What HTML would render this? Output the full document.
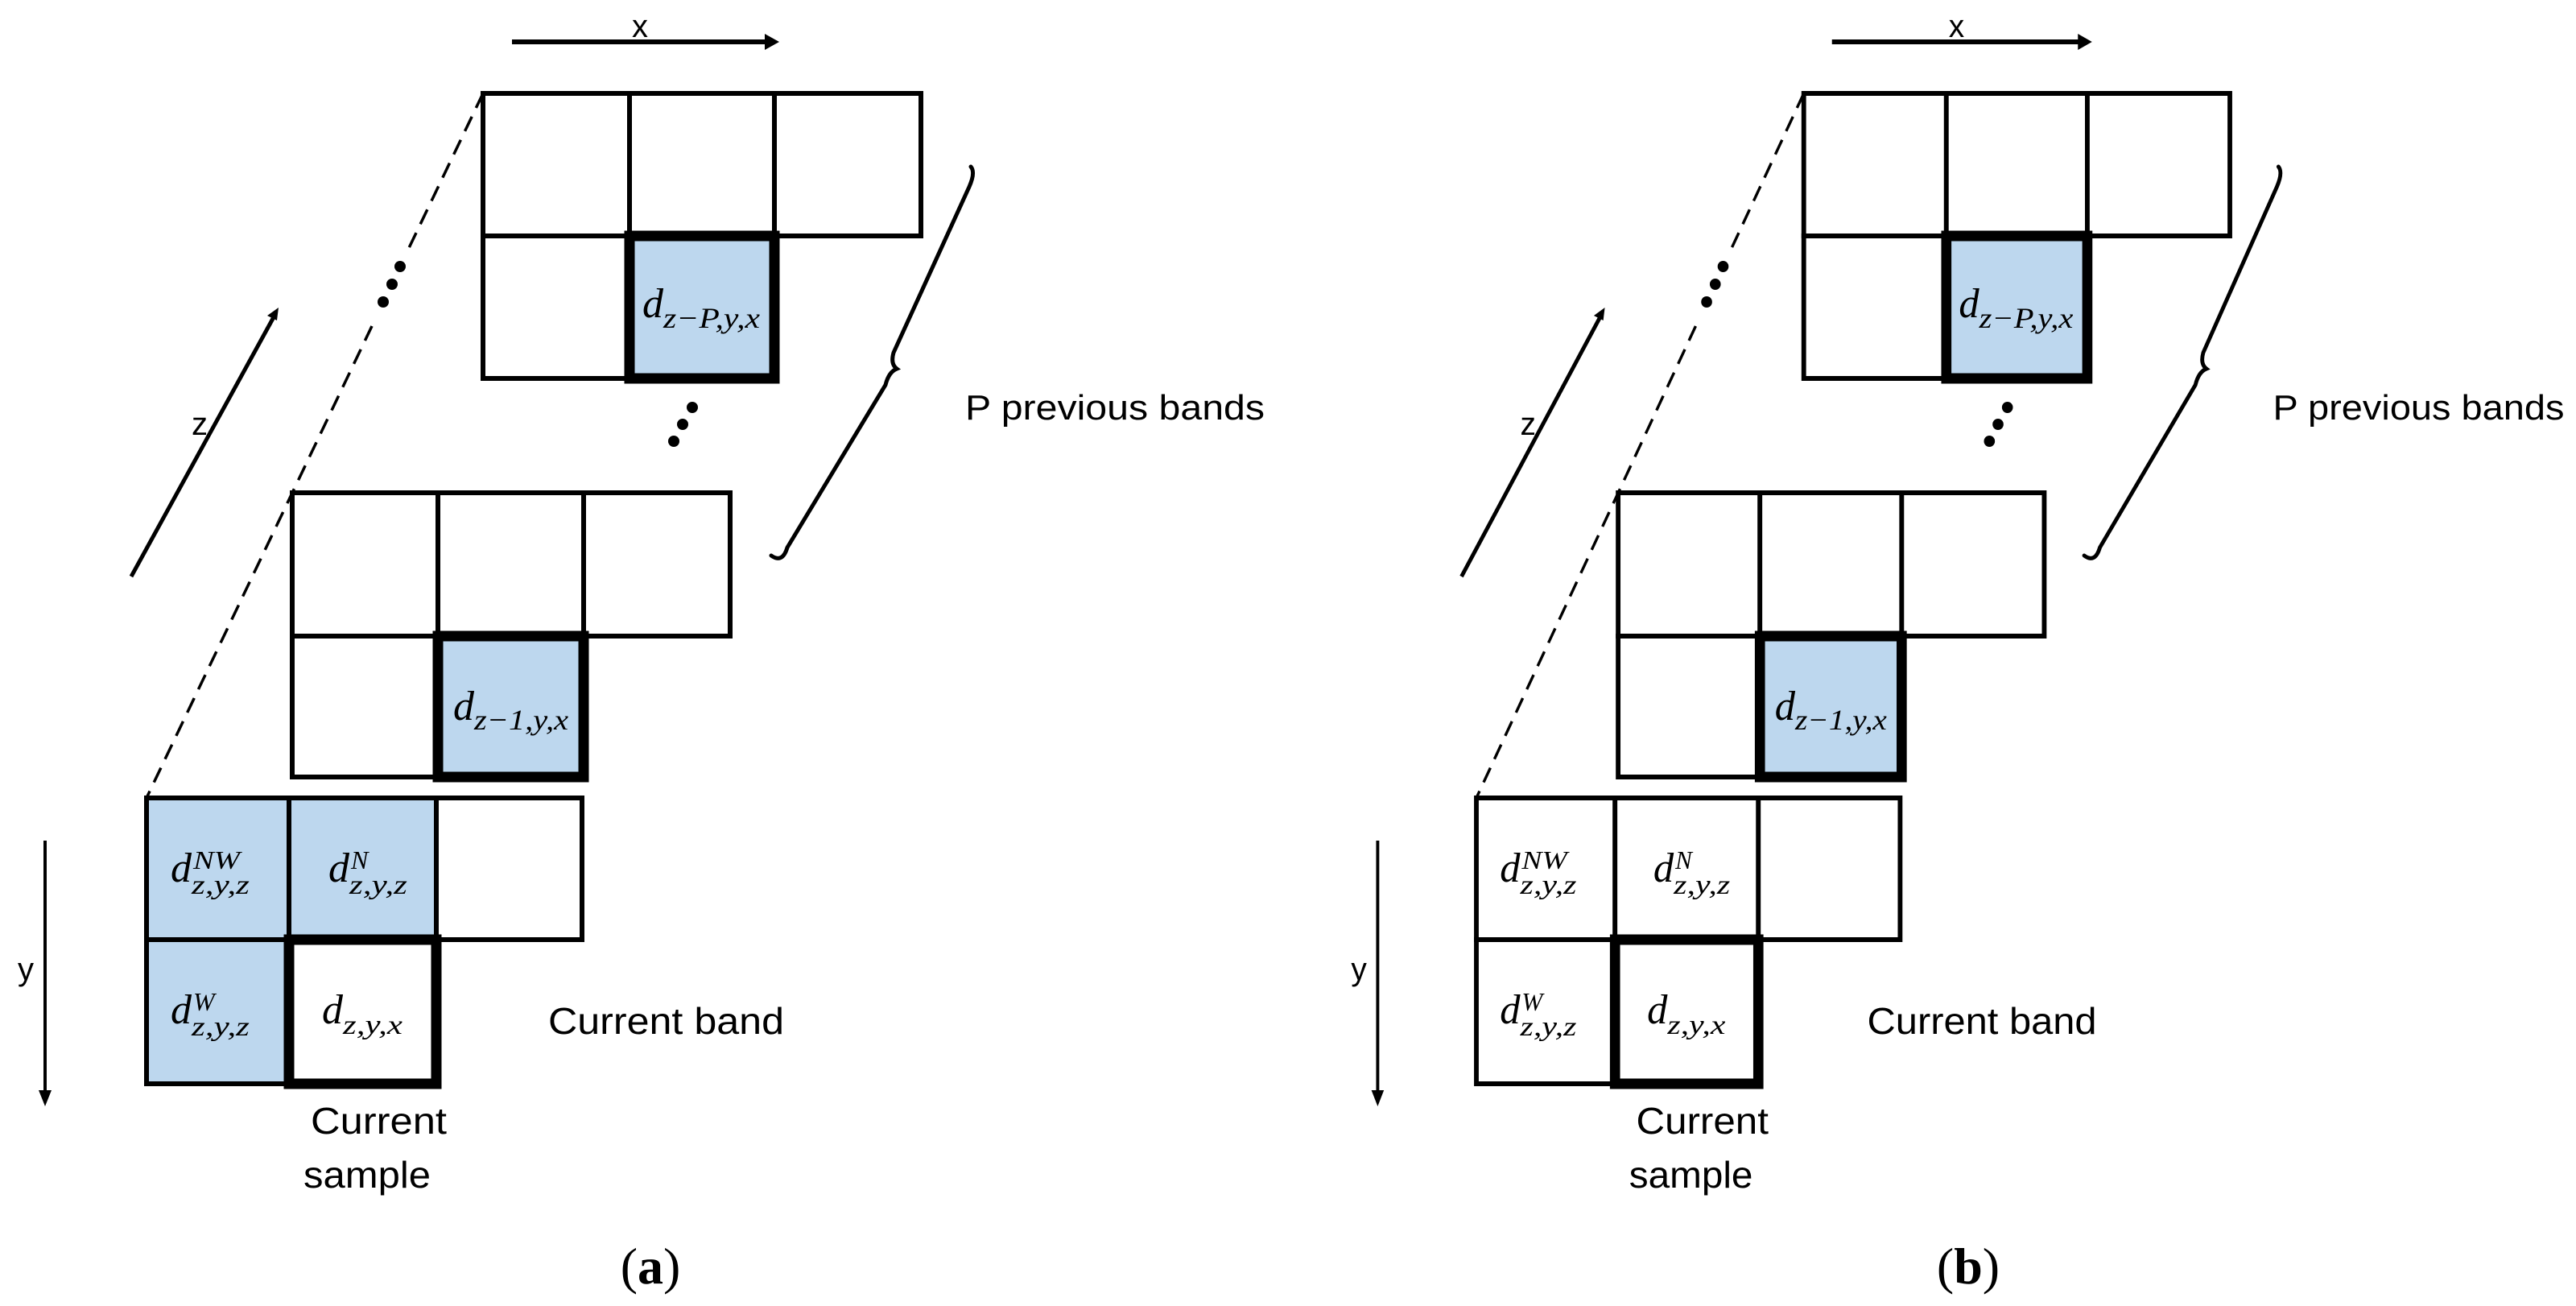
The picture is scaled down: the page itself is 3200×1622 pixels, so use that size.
<!DOCTYPE html>
<html><head><meta charset="utf-8"><style>
html,body{margin:0;padding:0;background:#fff;}
svg{display:block;}
.t{font-family:"Liberation Sans",sans-serif;fill:#000;}
.m{font-family:"Liberation Serif",serif;font-style:italic;fill:#000;}
.c{fill:#fff;stroke:#000;stroke-width:6;}
.b{fill:#bdd7ee;stroke:#000;stroke-width:6;}
.k{fill:none;stroke:#000;stroke-width:13;}
</style></head><body>
<svg width="3200" height="1622" viewBox="0 0 3200 1622" xmlns="http://www.w3.org/2000/svg">
<defs>
<g id="frame">
  <line x1="636" y1="52" x2="952" y2="52" stroke="#000" stroke-width="6"/>
  <polygon points="968,52 950,42 950,62" fill="#000"/>
  <text class="t" x="795" y="46" font-size="40" text-anchor="middle">x</text>
  <line x1="56" y1="1044" x2="56" y2="1358" stroke="#000" stroke-width="4"/>
  <polygon points="56,1374 48,1354 64,1354" fill="#000"/>
  <text class="t" x="32" y="1217" font-size="40" text-anchor="middle">y</text>
  <line x1="163" y1="716" x2="341" y2="392" stroke="#000" stroke-width="5"/>
  <polygon points="346,382 332,392 344,398" fill="#000"/>
  <text class="t" x="248" y="540" font-size="40" text-anchor="middle">z</text>
  <line x1="600" y1="116" x2="507" y2="310" stroke="#000" stroke-width="3.5" stroke-dasharray="20 12"/>
  <line x1="462" y1="405" x2="182" y2="991" stroke="#000" stroke-width="3.5" stroke-dasharray="20 12"/>
  <circle cx="497" cy="331" r="7"/><circle cx="487" cy="353" r="7"/><circle cx="476" cy="375" r="7"/>
  <circle cx="860" cy="506" r="7"/><circle cx="848" cy="527" r="7"/><circle cx="837" cy="548" r="7"/>
  <path d="M958,690 Q972,700 978,680 L1100,478 Q1104,462 1114,458 Q1106,452 1110,438 L1204,232 Q1212,214 1206,207" fill="none" stroke="#000" stroke-width="5" stroke-linecap="round"/>
  <text class="t" x="1199" y="521" font-size="44" textLength="372" lengthAdjust="spacingAndGlyphs">P previous bands</text>
  <rect class="c" x="600" y="116" width="182" height="177"/>
  <rect class="c" x="782" y="116" width="180" height="177"/>
  <rect class="c" x="962" y="116" width="182" height="177"/>
  <rect class="c" x="600" y="293" width="182" height="177"/>
  <rect class="b" x="782" y="293" width="180" height="177"/>
  <rect class="k" x="782" y="293" width="180" height="177"/>
  <text class="m" x="798" y="394" font-size="52">d</text>
  <text class="m" x="824" y="407" font-size="36" textLength="120" lengthAdjust="spacingAndGlyphs">z−P,y,x</text>
  <rect class="c" x="363" y="612" width="181" height="178"/>
  <rect class="c" x="544" y="612" width="181" height="178"/>
  <rect class="c" x="725" y="612" width="182" height="178"/>
  <rect class="c" x="363" y="790" width="181" height="175"/>
  <rect class="b" x="544" y="790" width="181" height="175"/>
  <rect class="k" x="544" y="790" width="181" height="175"/>
  <text class="m" x="563" y="894" font-size="52">d</text>
  <text class="m" x="589" y="906" font-size="36" textLength="117" lengthAdjust="spacingAndGlyphs">z−1,y,x</text>
  <text class="t" x="681" y="1284" font-size="46" textLength="293" lengthAdjust="spacingAndGlyphs">Current band</text>
  <text class="t" x="386" y="1408" font-size="46" textLength="169" lengthAdjust="spacingAndGlyphs">Current</text>
  <text class="t" x="377" y="1475" font-size="46" textLength="158" lengthAdjust="spacingAndGlyphs">sample</text>
</g>
<g id="labels">
  <text class="m" x="212" y="1095" font-size="52">d</text>
  <text class="m" x="240" y="1079" font-size="32" textLength="58" lengthAdjust="spacingAndGlyphs">NW</text>
  <text class="m" x="238" y="1110" font-size="34" textLength="72" lengthAdjust="spacingAndGlyphs">z,y,z</text>
  <text class="m" x="408" y="1095" font-size="52">d</text>
  <text class="m" x="436" y="1079" font-size="32">N</text>
  <text class="m" x="434" y="1110" font-size="34" textLength="72" lengthAdjust="spacingAndGlyphs">z,y,z</text>
  <text class="m" x="212" y="1271" font-size="52">d</text>
  <text class="m" x="240" y="1255" font-size="32">W</text>
  <text class="m" x="238" y="1286" font-size="34" textLength="72" lengthAdjust="spacingAndGlyphs">z,y,z</text>
  <rect class="k" x="359" y="1167" width="183" height="179"/>
  <text class="m" x="400" y="1271" font-size="52">d</text>
  <text class="m" x="426" y="1284" font-size="34" textLength="74" lengthAdjust="spacingAndGlyphs">z,y,x</text>
</g>
</defs>

<use href="#frame"/>
<rect class="b" x="182" y="991" width="177" height="176"/>
<rect class="b" x="359" y="991" width="183" height="176"/>
<rect class="c" x="542" y="991" width="181" height="176"/>
<rect class="b" x="182" y="1167" width="177" height="179"/>
<rect class="c" x="359" y="1167" width="183" height="179"/>
<use href="#labels"/>
<text x="808" y="1594" font-family="Liberation Serif,serif" font-size="64" text-anchor="middle">(<tspan font-weight="bold">a</tspan>)</text>

<g transform="translate(1834,0) scale(0.973,1) translate(-182,0)">
<use href="#frame"/>
<rect class="c" x="182" y="991" width="177" height="176"/>
<rect class="c" x="359" y="991" width="183" height="176"/>
<rect class="c" x="542" y="991" width="181" height="176"/>
<rect class="c" x="182" y="1167" width="177" height="179"/>
<rect class="c" x="359" y="1167" width="183" height="179"/>
<use href="#labels"/>
</g>
<text x="2445" y="1594" font-family="Liberation Serif,serif" font-size="64" text-anchor="middle">(<tspan font-weight="bold">b</tspan>)</text>
</svg>
</body></html>
